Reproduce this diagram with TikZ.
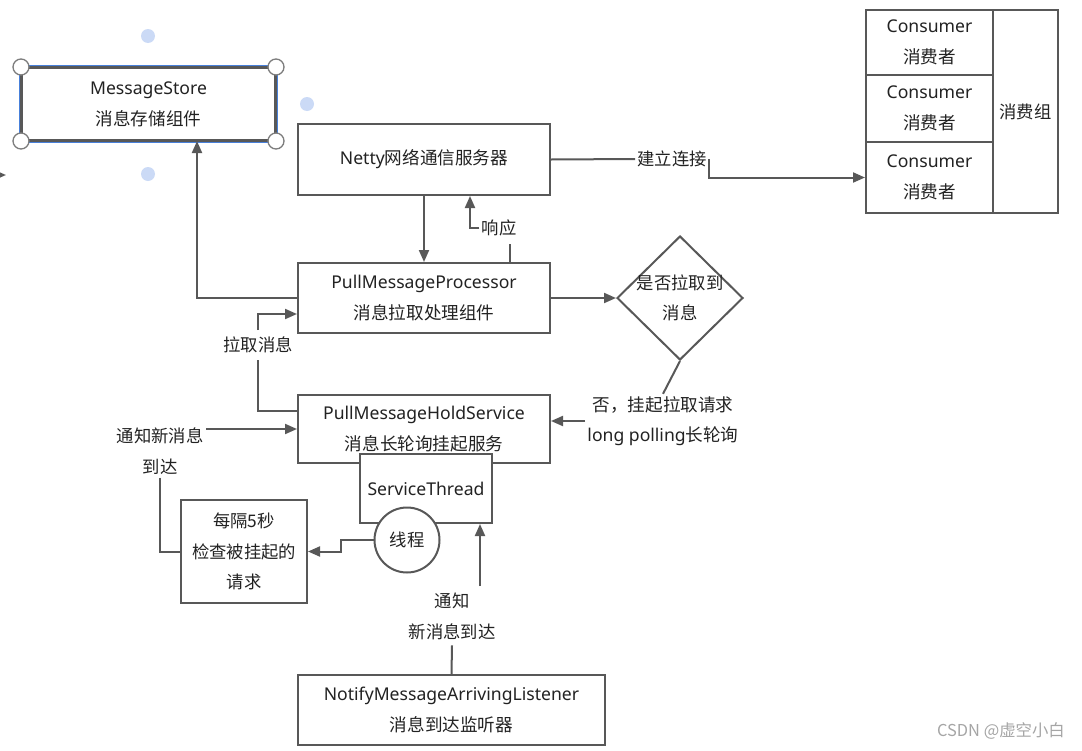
\documentclass[tikz,border=0pt]{standalone}
\usepackage{fontspec}
\setmainfont{Noto Sans}
\newfontfamily\cjk{Noto Sans CJK SC}
\usetikzlibrary{shapes.geometric,arrows.meta,calc}
\definecolor{ln}{RGB}{88,88,88}
\definecolor{tx}{RGB}{34,34,34}
\definecolor{selblue}{RGB}{72,128,218}
\definecolor{dotblue}{RGB}{203,218,246}
\definecolor{hdl}{RGB}{125,125,125}
\definecolor{wmk}{RGB}{165,165,165}
\begin{document}
\begin{tikzpicture}[x=0.75pt,y=-0.75pt,
  font=\fontsize{13.2}{23}\selectfont, text=tx,
  cjkf/.style={font=\cjk\fontsize{13}{23}\selectfont},
  box/.style={draw=ln,line width=1.5pt,rectangle,inner sep=0pt,align=center,fill=white},
  lbl/.style={inner sep=1.5pt,align=center},
  conn/.style={draw=ln,line width=1.5pt},
  arr/.style={draw=ln,line width=1.5pt,-{Triangle[length=9pt,width=7.5pt]}},
  handle/.style={draw=hdl,fill=white,line width=1pt},
  ]
\useasboundingbox (0,0) rectangle (1082,750);

% selection decorations
\fill[dotblue] (148,36) circle[radius=5.25pt];
\fill[dotblue] (307,104) circle[radius=5.25pt];
\fill[dotblue] (148,174) circle[radius=5.25pt];

% boxes
\node[box,minimum width=189.75pt,minimum height=54pt] (ms) at (148.5,104) {MessageStore\\{\cjk 消息存储组件}};
\draw[selblue,line width=1.6pt] ([shift={(-0.9pt,0.9pt)}]ms.north west) rectangle ([shift={(0.9pt,-0.9pt)}]ms.south east);
\draw[ln,line width=1.3pt] (ms.north west) rectangle (ms.south east);
\foreach \c in {north west,north east,south west,south east}
  \draw[handle] (ms.\c) circle[radius=6pt];

\node[box,minimum width=189pt,minimum height=53.25pt] (netty) at (424,159.5) {Netty{\cjk 网络通信服务器}};
\node[box,minimum width=189pt,minimum height=52.5pt] (pmp) at (424,298) {PullMessageProcessor\\{\cjk 消息拉取处理组件}};
\node[draw=ln,line width=1.5pt,diamond,minimum width=94.5pt,minimum height=93pt,inner sep=0pt] (dia) at (680,298) {};
\node[cjkf,align=center,inner sep=0pt] (diatext) at (dia.center) {是否拉取到\\消息};
\node[box,minimum width=189pt,minimum height=51pt] (pmhs) at (424,429) {PullMessageHoldService\\{\cjk 消息长轮询挂起服务}};
\node[box,minimum width=99pt,minimum height=51.75pt] (st) at (426,488.5) {ServiceThread};
\node[draw=ln,line width=1.5pt,circle,fill=white,minimum size=48.75pt,inner sep=0pt,cjkf] (circ) at (407,540) {线程};
\node[box,cjkf,minimum width=94.5pt,minimum height=77.25pt] (chk) at (244,551.5) {每隔5秒\\检查被挂起的\\请求};
\node[box,minimum width=230.25pt,minimum height=52.5pt] (nmal) at (451.5,710) {NotifyMessageArrivingListener\\{\cjk 消息到达监听器}};

% consumer group
\node[box,minimum width=95.25pt,minimum height=48.75pt] (c1) at (929.5,42.5) {Consumer\\{\cjk 消费者}};
\node[box,minimum width=95.25pt,minimum height=50.25pt] (c2) at (929.5,108.5) {Consumer\\{\cjk 消费者}};
\node[box,minimum width=95.25pt,minimum height=53.25pt] (c3) at (929.5,177.5) {Consumer\\{\cjk 消费者}};
\node[box,cjkf,minimum width=48.75pt,minimum height=152.25pt] (grp) at (1025.5,111.5) {消费组};

% labels
\node[lbl,cjkf] (conn) at (672,159) {建立连接};
\node[lbl,cjkf] (resp) at (499,228) {响应};
\node[lbl,cjkf,inner sep=5pt] (pull) at (258,345) {拉取消息};
\node[lbl,cjkf,inner sep=2pt] (notif) at (160,451.5) {通知新消息\\到达};
\node[lbl] (no) at (663,421) {{\cjk 否，挂起拉取请求}\\long polling{\cjk 长轮询}};
\node[lbl,cjkf,inner sep=4pt] (notif2) at (452,616.5) {通知\\新消息到达};
\node[text=wmk,font=\cjk\fontsize{12.3}{14}\selectfont,inner sep=0pt] (wm) at (1001,731) {CSDN @虚空小白};

% connectors
\coordinate (stubA) at (-14,175);
\coordinate (stubB) at (6,175);
\draw[arr] (stubA) -- (stubB);

\draw[conn] (netty.east) -- (conn.west);
\draw[arr] (conn.east) |- (c3.west);
\draw[arr] (netty.south) -- (pmp.north);
\draw[conn] ($(pmp.north)+(86,0)$) -- ($(pmp.north)+(86,-18)$);
\draw[arr] (resp.west) -| ($(netty.south)+(46,0)$);
\draw[arr] (pmp.west) -| ($(ms.south)+(48.5,0)$);
\draw[arr] (pmp.east) -- (dia.west);
\draw[conn] (dia.south) -- (no.north);
\draw[arr] (no.west) -- (no.west -| pmhs.east);
\draw[conn] ($(pmhs.west)+(0,-18)$) -| (pull.south);
\draw[arr] (pull.north) |- ($(pmp.west)+(0,16)$);
\draw[arr] (notif.east |- pmhs.west) -- (pmhs.west);
\draw[conn] (notif.south) |- (chk.west);
\draw[arr] (circ.west) -- ++(-33,0) |- (chk.east);
\draw[arr] ($(st.south east)+(-13,62)$) -- ($(st.south east)+(-13,0)$);
\draw[conn] (notif2.south) -- (nmal.north);
\end{tikzpicture}
\end{document}
